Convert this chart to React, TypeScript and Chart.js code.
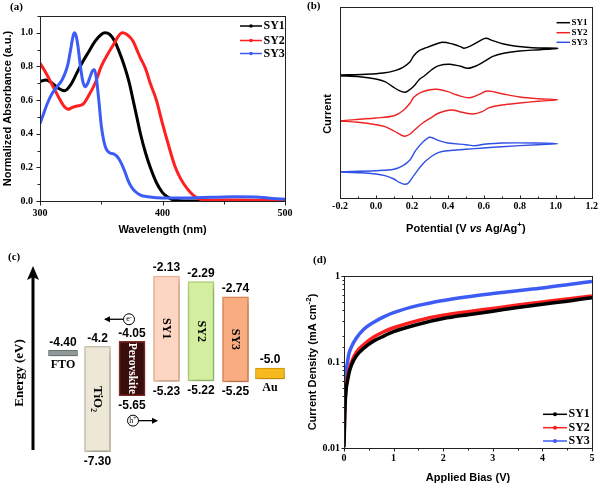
import React, { useEffect, useRef } from 'react';
import { Chart, registerables } from 'chart.js';

Chart.register(...registerables);

// ---------------- shared labels ----------------
const seriesNames = ['SY1', 'SY2', 'SY3'];

// ---------------- (a) UV-vis absorption ----------------
const sy1Wavelength = [300, 305, 310, 315, 320, 325, 330, 335, 340, 345, 350, 353, 357, 361, 364, 369, 373, 376, 379, 382, 386, 390, 395, 400, 405, 410, 420, 440, 460, 480, 500];
const sy1Absorbance = [0.71, 0.72, 0.7, 0.67, 0.655, 0.69, 0.76, 0.83, 0.89, 0.95, 0.99, 1.0, 0.99, 0.95, 0.9, 0.8, 0.7, 0.6, 0.5, 0.4, 0.29, 0.2, 0.11, 0.05, 0.02, 0.005, 0, 0, 0, 0, 0];
const sy2Wavelength = [300, 305, 310, 315, 320, 323, 326, 330, 335, 340, 345, 350, 355, 360, 364, 367, 371, 376, 379, 382, 386, 390, 395, 400, 405, 410, 415, 420, 425, 430, 435, 445, 460, 475, 490, 500];
const sy2Absorbance = [0.82, 0.76, 0.69, 0.62, 0.56, 0.545, 0.555, 0.565, 0.575, 0.63, 0.7, 0.8, 0.87, 0.93, 0.98, 1.0, 0.99, 0.95, 0.9, 0.85, 0.79, 0.7, 0.6, 0.46, 0.33, 0.21, 0.13, 0.075, 0.035, 0.012, 0.004, 0.005, 0.006, 0.005, 0.002, 0.0];
const sy3Wavelength = [300, 303, 306, 310, 314, 318, 321, 323, 325, 327, 328, 329.5, 331, 333, 335, 337, 339, 341, 343, 344.5, 346, 348, 350, 352, 354, 357, 360, 363, 366, 369, 372, 375, 378, 382, 388, 395, 420, 440, 460, 475, 490, 500];
const sy3Absorbance = [0.46, 0.52, 0.58, 0.64, 0.68, 0.72, 0.77, 0.82, 0.9, 0.98, 1.0, 0.98, 0.92, 0.8, 0.71, 0.68, 0.7, 0.74, 0.775, 0.78, 0.73, 0.6, 0.45, 0.36, 0.31, 0.285, 0.28, 0.265, 0.23, 0.18, 0.12, 0.08, 0.055, 0.035, 0.025, 0.02, 0.018, 0.022, 0.025, 0.024, 0.015, 0.01];

// ---------------- (b) cyclic voltammetry (current in arbitrary units, curves offset) ----------------
const sy1Potential = [-0.2, -0.06, 0.04, 0.11, 0.15, 0.19, 0.21, 0.24, 0.28, 0.32, 0.37, 0.43, 0.47, 0.49, 0.53, 0.57, 0.61, 0.65, 0.71, 0.78, 0.87, 1.01, 0.91, 0.8, 0.71, 0.65, 0.61, 0.56, 0.51, 0.47, 0.41, 0.35, 0.31, 0.27, 0.24, 0.21, 0.18, 0.16, 0.13, 0.09, 0.05, 0.0, -0.09, -0.2];
const sy1Current = [123.0, 123.7, 125.0, 127.7, 130.7, 136.3, 142.3, 147.3, 150.3, 153.0, 155.7, 153.7, 151.3, 149.7, 152.3, 156.3, 159.7, 157.3, 154.0, 151.7, 150.3, 149.7, 148.3, 147.0, 144.7, 141.7, 137.3, 132.3, 129.7, 131.7, 133.7, 132.3, 128.3, 122.3, 118.3, 111.7, 107.3, 105.7, 107.3, 111.7, 116.3, 119.0, 121.3, 122.3];
const sy2Potential = [-0.2, 0.0, 0.1, 0.15, 0.19, 0.21, 0.25, 0.3, 0.34, 0.4, 0.45, 0.52, 0.57, 0.62, 0.7, 0.8, 0.9, 1.01, 0.9, 0.8, 0.7, 0.63, 0.59, 0.54, 0.48, 0.42, 0.35, 0.31, 0.26, 0.21, 0.19, 0.16, 0.14, 0.1, 0.05, 0.0, -0.1, -0.2];
const sy2Current = [77.3, 80.0, 82.3, 87.3, 95.0, 100.7, 105.7, 108.3, 108.7, 106.3, 103.0, 100.3, 103.3, 107.0, 104.3, 101.0, 99.3, 98.3, 96.7, 95.0, 93.0, 90.3, 86.3, 84.0, 85.7, 88.0, 85.0, 80.7, 75.0, 67.3, 64.0, 61.7, 63.0, 67.0, 71.3, 73.3, 75.7, 77.0];
const sy3Potential = [-0.2, 0.0, 0.1, 0.15, 0.19, 0.22, 0.26, 0.3, 0.35, 0.4, 0.5, 0.55, 0.6, 0.7, 0.9, 1.01, 0.9, 0.7, 0.6, 0.5, 0.4, 0.35, 0.31, 0.26, 0.21, 0.18, 0.16, 0.13, 0.1, 0.05, 0.0, -0.1, -0.2];
const sy3Current = [26.3, 27.3, 28.7, 32.3, 38.3, 47.3, 55.7, 60.7, 57.3, 55.0, 53.3, 52.3, 53.7, 55.0, 55.0, 54.3, 53.3, 51.3, 50.0, 48.7, 47.3, 45.7, 41.7, 34.0, 22.3, 15.0, 13.7, 15.7, 19.0, 22.3, 24.0, 25.3, 26.0];

// ---------------- (c) energy levels (eV) ----------------
const layerNames = ['FTO', 'TiO\u2082', 'Perovskite', 'SY1', 'SY2', 'SY3', 'Au'];
const upperLevelText = ['-4.40', '-4.2', '-4.05', '-2.13', '-2.29', '-2.74', '-5.0'];
const lowerLevelText = ['', '-7.30', '-5.65', '-5.23', '-5.22', '-5.25', ''];

// ---------------- (d) J-V (log) ----------------
const biasVoltage = [0, 0.01, 0.02, 0.04, 0.07, 0.1, 0.15, 0.25, 0.4, 0.6, 0.8, 1.0, 1.5, 2.0, 2.5, 3.0, 3.5, 4.0, 4.5, 5.0];
const sy1Density = [0.0102, 0.018, 0.03, 0.046, 0.06, 0.074, 0.092, 0.118, 0.145, 0.175, 0.2, 0.225, 0.275, 0.32, 0.355, 0.39, 0.43, 0.47, 0.51, 0.56];
const sy2Density = [0.0115, 0.022, 0.033, 0.05, 0.065, 0.08, 0.1, 0.13, 0.16, 0.195, 0.225, 0.25, 0.305, 0.35, 0.385, 0.42, 0.46, 0.5, 0.54, 0.585];
const sy3Density = [0.017, 0.035, 0.05, 0.075, 0.1, 0.125, 0.15, 0.19, 0.24, 0.29, 0.335, 0.375, 0.455, 0.52, 0.575, 0.625, 0.675, 0.725, 0.79, 0.865];

// ---------------- styles ----------------
const SERIF = "'Liberation Serif', 'Times New Roman', serif";
const SANS = "'Liberation Sans', Arial, sans-serif";
const tickFont = { family: SERIF, size: 10, weight: 'bold' as const };
const titleFont = { family: SANS, size: 11, weight: 'bold' as const };
const colorsA = ['#000000', '#ff1f1f', '#3d5cf5'];
const colorsB = ['#000000', '#ee2424', '#3050e6'];
const layerFill = ['#8f9999', '#ede7d7', '#3a0d0d', '#fcd6c2', '#d4ee9f', '#f8ac80', '#f6b91e'];
const layerBorder = ['#6d7676', '#cdc5b1', '#8a2e27', '#f0b699', '#b4d67a', '#e48b5a', '#d79a00'];
const levelThickness = [0.16, 0, 0, 0, 0, 0, 0.32];

Chart.defaults.color = '#000';
Chart.defaults.font.family = SERIF;

const pairs = (xs: number[], ys: number[]) => xs.map((x, i) => ({ x, y: ys[i] }));

type Run = { text: string; font: string; dy?: number };
function drawRuns(ctx: CanvasRenderingContext2D, runs: Run[], cx: number, cy: number, rot = 0, color = '#000') {
  ctx.save();
  ctx.translate(cx, cy);
  ctx.rotate(rot);
  ctx.textBaseline = 'middle';
  ctx.textAlign = 'left';
  ctx.fillStyle = color;
  let total = 0;
  for (const r of runs) { ctx.font = r.font; total += ctx.measureText(r.text).width; }
  let x = -total / 2;
  for (const r of runs) {
    ctx.font = r.font;
    ctx.fillText(r.text, x, r.dy || 0);
    x += ctx.measureText(r.text).width;
  }
  ctx.restore();
}

const framePlugin = {
  id: 'frame',
  afterDraw(chart: any) {
    const { ctx, chartArea } = chart;
    const l = Math.round(chartArea.left) + 0.5, t = Math.round(chartArea.top) + 0.5;
    const r = Math.round(chartArea.right) + 0.5, b = Math.round(chartArea.bottom) + 0.5;
    ctx.save();
    ctx.strokeStyle = '#222';
    ctx.lineWidth = 1;
    ctx.strokeRect(l, t, r - l, b - t);
    ctx.restore();
  },
};

type TickCfg = { major: (v: number) => boolean; dir: number; len: number; minor: number };
function tickPlugin(cfg: Record<string, TickCfg>) {
  return {
    id: 'tickMarks',
    afterDraw(chart: any) {
      const ctx = chart.ctx;
      const ca = chart.chartArea;
      ctx.save();
      ctx.strokeStyle = '#222';
      ctx.lineWidth = 1;
      for (const id of Object.keys(cfg)) {
        const s = chart.scales[id];
        const c = cfg[id];
        for (const t of s.ticks) {
          const L = c.major(t.value) ? c.len : c.minor;
          ctx.beginPath();
          if (s.isHorizontal()) {
            const x = Math.round(s.getPixelForValue(t.value)) + 0.5;
            const y = Math.round(ca.bottom) + 0.5;
            ctx.moveTo(x, y);
            ctx.lineTo(x, y + c.dir * L);
          } else {
            const y = Math.round(s.getPixelForValue(t.value)) + 0.5;
            const x = Math.round(ca.left) + 0.5;
            ctx.moveTo(x, y);
            ctx.lineTo(x - c.dir * L, y);
          }
          ctx.stroke();
        }
      }
      ctx.restore();
    },
  };
}

type LegendOpts = { x1: number; x2: number; tx: number; rows: number[]; font: string; marker: number; lw: number };
function legendPlugin(colors: string[], o: LegendOpts) {
  return {
    id: 'customLegend',
    afterDraw(chart: any) {
      const ctx = chart.ctx;
      ctx.save();
      seriesNames.forEach((name, i) => {
        const y = o.rows[i];
        ctx.strokeStyle = colors[i];
        ctx.lineWidth = o.lw;
        ctx.beginPath();
        ctx.moveTo(o.x1, y);
        ctx.lineTo(o.x2, y);
        ctx.stroke();
        if (o.marker > 0) {
          ctx.beginPath();
          ctx.arc((o.x1 + o.x2) / 2, y, o.marker, 0, Math.PI * 2);
          ctx.fillStyle = colors[i];
          ctx.fill();
        }
        ctx.fillStyle = '#000';
        ctx.font = o.font;
        ctx.textBaseline = 'middle';
        ctx.textAlign = 'left';
        ctx.fillText(name, o.tx, y);
      });
      ctx.restore();
    },
  };
}

function panelLabel(text: string, x: number, y: number) {
  return {
    id: 'panelLabel',
    afterDraw(chart: any) {
      const ctx = chart.ctx;
      ctx.save();
      ctx.font = `bold 11px ${SERIF}`;
      ctx.fillStyle = '#000';
      ctx.textBaseline = 'middle';
      ctx.textAlign = 'left';
      ctx.fillText(text, x, y);
      ctx.restore();
    },
  };
}

const noInteraction = {
  animation: false as const,
  responsive: false,
  events: [] as any[],
};
const hiddenPlugins = { legend: { display: false }, tooltip: { enabled: false } };

// ---------------- chart configs ----------------
function configA(): any {
  const sets = [
    [sy1Wavelength, sy1Absorbance],
    [sy2Wavelength, sy2Absorbance],
    [sy3Wavelength, sy3Absorbance],
  ];
  return {
    type: 'line',
    data: {
      datasets: sets.map(([xs, ys], i) => ({
        label: seriesNames[i],
        data: pairs(xs, ys),
        borderColor: colorsA[i],
        borderWidth: 3,
        pointRadius: 0,
        cubicInterpolationMode: 'monotone',
        order: 3 - i,
      })),
    },
    options: {
      ...noInteraction,
      layout: { padding: { left: 0, top: 16, right: 15, bottom: 0 } },
      plugins: hiddenPlugins,
      scales: {
        x: {
          type: 'linear', min: 300, max: 500,
          afterFit: (s: any) => { s.height = 39; },
          grid: { drawOnChartArea: false, drawTicks: false },
          border: { display: false },
          ticks: { stepSize: 50, autoSkip: false, maxRotation: 0, padding: 6, font: tickFont, color: '#000',
            callback: (v: number) => (v % 100 === 0 ? String(v) : '') },
          title: { display: true, text: 'Wavelength (nm)', font: titleFont, color: '#000', padding: { top: 0, bottom: 3 } },
        },
        y: {
          type: 'linear', min: 0, max: 1.1,
          afterFit: (s: any) => { s.width = 40; },
          grid: { drawOnChartArea: false, drawTicks: false },
          border: { display: false },
          ticks: { stepSize: 0.1, autoSkip: false, padding: 7, font: tickFont, color: '#000',
            callback: (v: number) => { const k = Math.round(v * 10); return k % 2 === 0 && k <= 10 ? (k / 10).toFixed(1) : ''; } },
          title: { display: true, text: 'Normalized Absorbance (a.u.)', font: titleFont, color: '#000', padding: { top: 1, bottom: 0 } },
        },
      },
    },
    plugins: [
      framePlugin,
      tickPlugin({
        x: { major: (v) => v % 100 === 0, dir: 1, len: 4, minor: 3 },
        y: { major: (v) => Math.round(v * 10) % 2 === 0, dir: 1, len: 4, minor: 3 },
      }),
      legendPlugin(colorsA, { x1: 240, x2: 262, tx: 263.5, rows: [26, 40.5, 53.5], font: `bold 12px ${SERIF}`, marker: 1.8, lw: 1.5 }),
      panelLabel('(a)', 10, 7),
    ],
  };
}

function configB(): any {
  const sets = [
    [sy1Potential, sy1Current],
    [sy2Potential, sy2Current],
    [sy3Potential, sy3Current],
  ];
  return {
    type: 'line',
    data: {
      datasets: sets.map(([xs, ys], i) => ({
        label: seriesNames[i],
        data: pairs(xs, ys),
        borderColor: colorsB[i],
        borderWidth: 1.4,
        pointRadius: 0,
        tension: 0.35,
      })),
    },
    options: {
      ...noInteraction,
      layout: { padding: { left: 0, top: 7, right: 8, bottom: 0 } },
      plugins: hiddenPlugins,
      scales: {
        x: {
          type: 'linear', min: -0.2, max: 1.2,
          afterFit: (s: any) => { s.height = 42; },
          grid: { drawOnChartArea: false, drawTicks: false },
          border: { display: false },
          ticks: { stepSize: 0.1, autoSkip: false, maxRotation: 0, padding: 2, font: tickFont, color: '#000',
            callback: (v: number) => { const k = Math.round(v * 10); return k % 2 === 0 ? (k / 10).toFixed(1) : ''; } },
        },
        y: {
          type: 'linear', min: 0, max: 191,
          afterFit: (s: any) => { s.width = 40; },
          grid: { display: false, drawOnChartArea: false, drawTicks: false },
          border: { display: false },
          ticks: { display: false },
        },
      },
    },
    plugins: [
      framePlugin,
      tickPlugin({
        x: { major: (v) => Math.round(v * 10) % 2 === 0, dir: -1, len: 3, minor: 2 },
      }),
      legendPlugin(colorsB, { x1: 256.5, x2: 270, tx: 271.5, rows: [22.7, 32.7, 42.3], font: `bold 9px ${SERIF}`, marker: 0, lw: 1.5 }),
      panelLabel('(b)', 7, 6),
      {
        id: 'titlesB',
        afterDraw(chart: any) {
          const ctx = chart.ctx;
          const ca = chart.chartArea;
          const f = `bold 11px ${SANS}`;
          drawRuns(ctx, [
            { text: 'Potential (V ', font: f },
            { text: 'vs', font: `italic bold 11px ${SANS}` },
            { text: ' Ag/Ag', font: f },
            { text: '+', font: `bold 8px ${SANS}`, dy: -4 },
            { text: ')', font: f },
          ], (ca.left + ca.right) / 2, 229);
          drawRuns(ctx, [{ text: 'Current', font: f }], 27.5, 114, -Math.PI / 2);
        },
      },
    ],
  };
}

function configC(): any {
  const upper = upperLevelText.map(Number);
  const lower = lowerLevelText.map((t) => (t ? Number(t) : null));
  const bands = upper.map((u, i) => (lower[i] !== null ? [lower[i], u] : null));
  const levels = upper.map((u, i) => (lower[i] === null ? [u - levelThickness[i] / 2, u + levelThickness[i] / 2] : null));
  return {
    type: 'bar',
    data: {
      labels: layerNames,
      datasets: [
        { data: bands, backgroundColor: layerFill, borderColor: layerBorder, borderWidth: 1.5, borderSkipped: false, barThickness: 26, grouped: false },
        { data: levels, backgroundColor: layerFill, borderColor: layerBorder, borderWidth: 1, borderSkipped: false, barThickness: 29, grouped: false },
      ],
    },
    options: {
      ...noInteraction,
      layout: { padding: { left: 45.75, right: 12.75, top: 0, bottom: 0 } },
      plugins: hiddenPlugins,
      scales: {
        x: { type: 'category', display: false, offset: true },
        y: { type: 'linear', display: false, min: -8.28, max: -1.07 },
      },
    },
    plugins: [
      {
        id: 'shadow',
        beforeDatasetsDraw(chart: any) {
          const ctx = chart.ctx;
          ctx.save();
          ctx.shadowColor = 'rgba(0,0,0,0.28)';
          ctx.shadowBlur = 7;
          ctx.shadowOffsetX = 2;
          ctx.shadowOffsetY = 3;
        },
        afterDatasetsDraw(chart: any) {
          chart.ctx.restore();
        },
      },
      {
        id: 'energyLabels',
        afterDraw(chart: any) {
          const ctx = chart.ctx;
          const bandMeta = chart.getDatasetMeta(0);
          const levelMeta = chart.getDatasetMeta(1);
          const numFont = `bold 12px ${SANS}`;
          // energy axis arrow
          ctx.save();
          ctx.strokeStyle = '#000';
          ctx.fillStyle = '#000';
          ctx.lineWidth = 3;
          ctx.beginPath();
          ctx.moveTo(33, 210);
          ctx.lineTo(33, 36);
          ctx.stroke();
          ctx.beginPath();
          ctx.moveTo(33, 26);
          ctx.lineTo(39, 40);
          ctx.lineTo(33, 37);
          ctx.lineTo(27, 40);
          ctx.closePath();
          ctx.fill();
          ctx.restore();
          drawRuns(ctx, [{ text: 'Energy (eV)', font: `bold 13px ${SERIF}` }], 20, 133, -Math.PI / 2);

          layerNames.forEach((name, i) => {
            const isBand = lower[i] !== null;
            const el = (isBand ? bandMeta : levelMeta).data[i];
            const top = Math.min(el.y, el.base);
            const bot = Math.max(el.y, el.base);
            drawRuns(ctx, [{ text: upperLevelText[i], font: numFont }], el.x, top - 8);
            if (isBand) {
              drawRuns(ctx, [{ text: lowerLevelText[i], font: numFont }], el.x, bot + 10);
              const size = name === 'Perovskite' ? 11.5 : i === 1 ? 13 : 12;
              drawRuns(ctx, [{ text: name, font: `bold ${size}px ${SERIF}` }], el.x, (top + bot) / 2, Math.PI / 2,
                name === 'Perovskite' ? '#ffffff' : '#000');
            } else {
              drawRuns(ctx, [{ text: name, font: `bold 12px ${SERIF}` }], el.x, bot + 9);
            }
            if (name === 'Perovskite') {
              const carrier = (cx: number, cy: number, sym: string, sign: string, dir: number) => {
                ctx.save();
                ctx.strokeStyle = '#000';
                ctx.lineWidth = 1;
                ctx.beginPath();
                ctx.arc(cx, cy, 5.5, 0, Math.PI * 2);
                ctx.stroke();
                const x0 = cx + dir * 5.5;
                const x1 = cx + dir * 24;
                ctx.lineWidth = 1.3;
                ctx.beginPath();
                ctx.moveTo(x0, cy);
                ctx.lineTo(x1, cy);
                ctx.stroke();
                ctx.beginPath();
                ctx.moveTo(x1 + dir * 1, cy);
                ctx.lineTo(x1 - dir * 5, cy - 3);
                ctx.lineTo(x1 - dir * 5, cy + 3);
                ctx.closePath();
                ctx.fillStyle = '#000';
                ctx.fill();
                ctx.restore();
                drawRuns(ctx, [
                  { text: sym, font: `8px ${SERIF}` },
                  { text: sign, font: `6px ${SERIF}`, dy: -2 },
                ], cx, cy);
              };
              carrier(el.x - 3, top - 22, 'e', '-', -1);
              carrier(el.x + 1, bot + 25, 'h', '+', 1);
            }
          });
        },
      },
      panelLabel('(c)', 8, 17),
    ],
  };
}

function configD(): any {
  const sets = [sy1Density, sy2Density, sy3Density];
  const isPow10 = (v: number) => Math.abs(Math.log10(v) - Math.round(Math.log10(v))) < 1e-6;
  return {
    type: 'line',
    data: {
      datasets: sets.map((ys, i) => ({
        label: seriesNames[i],
        data: pairs(biasVoltage, ys),
        borderColor: colorsA[i],
        borderWidth: 3.5,
        pointRadius: 0,
        cubicInterpolationMode: 'monotone',
      })),
    },
    options: {
      ...noInteraction,
      layout: { padding: { left: 0, top: 36, right: 8, bottom: 0 } },
      plugins: hiddenPlugins,
      scales: {
        x: {
          type: 'linear', min: 0, max: 5,
          afterFit: (s: any) => { s.height = 37; },
          grid: { drawOnChartArea: false, drawTicks: false },
          border: { display: false },
          ticks: { stepSize: 0.5, autoSkip: false, maxRotation: 0, padding: 4, font: tickFont, color: '#000',
            callback: (v: number) => (Number.isInteger(v) ? String(v) : '') },
          title: { display: true, text: 'Applied Bias (V)', font: titleFont, color: '#000', padding: { top: 0, bottom: 0 } },
        },
        y: {
          type: 'logarithmic', min: 0.01, max: 1,
          afterFit: (s: any) => { s.width = 44; },
          grid: { drawOnChartArea: false, drawTicks: false },
          border: { display: false },
          ticks: { autoSkip: false, padding: 4, font: tickFont, color: '#000',
            callback: (v: number) => (isPow10(v) ? String(v) : '') },
        },
      },
    },
    plugins: [
      framePlugin,
      tickPlugin({
        x: { major: (v) => Number.isInteger(v), dir: 1, len: 3, minor: 2 },
        y: { major: (v) => isPow10(v), dir: 1, len: 3, minor: 2 },
      }),
      legendPlugin(colorsA, { x1: 243, x2: 267, tx: 268.5, rows: [174.3, 187.7, 201], font: `bold 12px ${SERIF}`, marker: 2, lw: 1.5 }),
      panelLabel('(d)', 13, 20),
      {
        id: 'titlesD',
        afterDraw(chart: any) {
          const ca = chart.chartArea;
          const f = `bold 11px ${SANS}`;
          drawRuns(chart.ctx, [
            { text: 'Current Density (mA cm', font: f },
            { text: '-2', font: `bold 8px ${SANS}`, dy: -4 },
            { text: ')', font: f },
          ], 13, (ca.top + ca.bottom) / 2, -Math.PI / 2);
        },
      },
    ],
  };
}

export default function App() {
  const aRef = useRef<HTMLCanvasElement>(null);
  const bRef = useRef<HTMLCanvasElement>(null);
  const cRef = useRef<HTMLCanvasElement>(null);
  const dRef = useRef<HTMLCanvasElement>(null);

  useEffect(() => {
    const charts = [
      new Chart(aRef.current as HTMLCanvasElement, configA()),
      new Chart(bRef.current as HTMLCanvasElement, configB()),
      new Chart(cRef.current as HTMLCanvasElement, configC()),
      new Chart(dRef.current as HTMLCanvasElement, configD()),
    ];
    return () => charts.forEach((c) => c.destroy());
  }, []);

  const abs = (left: number, top: number): React.CSSProperties => ({ position: 'absolute', left, top });
  return (
    <div style={{ position: 'absolute', left: 0, top: 0, width: 600, height: 485, background: '#fff' }}>
      <canvas ref={aRef} width={300} height={240} style={abs(0, 0)} />
      <canvas ref={bRef} width={300} height={240} style={abs(300, 0)} />
      <canvas ref={cRef} width={300} height={245} style={abs(0, 240)} />
      <canvas ref={dRef} width={300} height={245} style={abs(300, 240)} />
    </div>
  );
}
